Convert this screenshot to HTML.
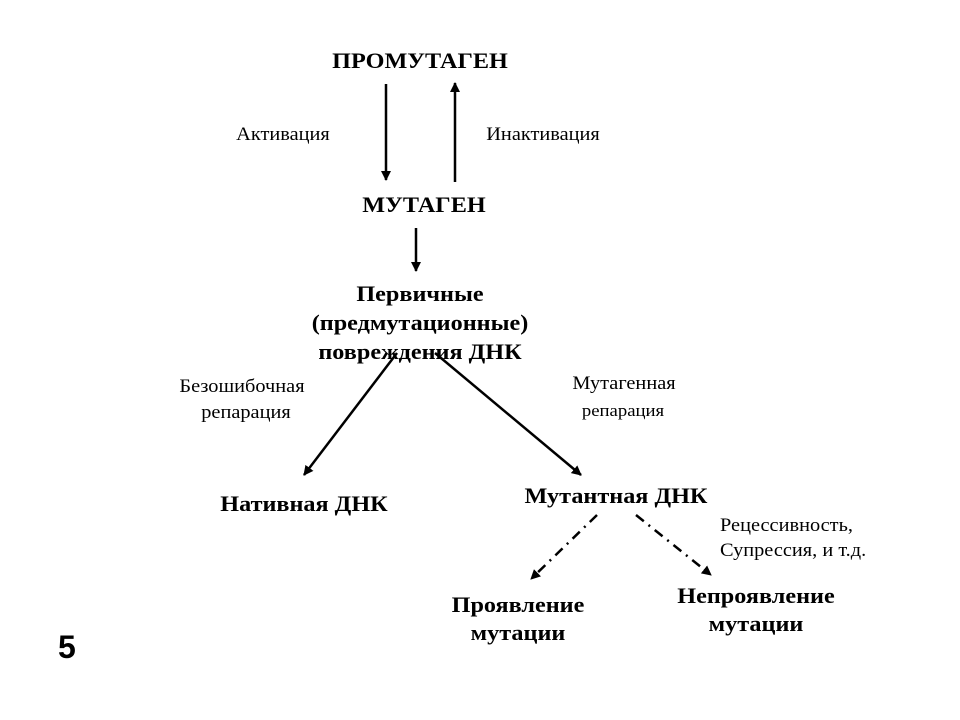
<!DOCTYPE html>
<html><head><meta charset="utf-8"><style>
body{margin:0;width:960px;height:720px;background:#fff;overflow:hidden;position:relative;font-family:"Liberation Serif",serif;color:#000}
.t{position:absolute;white-space:nowrap;text-align:center;width:400px;height:28px;line-height:28px;transform:scaleX(1.1)}
.b{font-weight:bold;font-size:22px}
.n{font-size:18.5px}
</style></head><body>
<svg width="960" height="720" style="position:absolute;left:0;top:0">
<defs><marker id="a" markerWidth="10" markerHeight="10" refX="9" refY="5" orient="auto" markerUnits="userSpaceOnUse"><path d="M0,0 L10,5 L0,10 z" fill="#000"/></marker></defs>
<g stroke="#000" stroke-width="2.5" fill="none">
<line x1="386" y1="84" x2="386" y2="180" marker-end="url(#a)"/>
<line x1="455" y1="182" x2="455" y2="83" marker-end="url(#a)"/>
<line x1="416" y1="228" x2="416" y2="271" marker-end="url(#a)"/>
<line x1="397" y1="353" x2="304" y2="475" marker-end="url(#a)"/>
<line x1="435" y1="353" x2="581" y2="475" marker-end="url(#a)"/>
<line x1="597" y1="515" x2="531" y2="579" stroke-dasharray="10,6,2,6" marker-end="url(#a)"/>
<line x1="636" y1="515" x2="711" y2="575" stroke-dasharray="10,6,2,6" marker-end="url(#a)"/>
</g></svg>
<div class="t b" style="left:220px;top:47px">ПРОМУТАГЕН</div>
<div class="t n" style="left:83px;top:121px">Активация</div>
<div class="t n" style="left:343px;top:121px">Инактивация</div>
<div class="t b" style="left:224px;top:191px">МУТАГЕН</div>
<div class="t b" style="left:220px;top:280px">Первичные</div>
<div class="t b" style="left:220px;top:309px">(предмутационные)</div>
<div class="t b" style="left:220px;top:338px">повреждения ДНК</div>
<div class="t n" style="left:42px;top:373px">Безошибочная</div>
<div class="t n" style="left:46px;top:399px">репарация</div>
<div class="t n" style="left:424px;top:370px">Мутагенная</div>
<div class="t n" style="left:423px;top:397px;font-size:17px">репарация</div>
<div class="t b" style="left:104px;top:490px">Нативная ДНК</div>
<div class="t b" style="left:416px;top:482px">Мутантная ДНК</div>
<div class="t n" style="left:720px;top:512px;width:auto;text-align:left;transform-origin:0 0">Рецессивность,</div>
<div class="t n" style="left:720px;top:537px;width:auto;text-align:left;transform-origin:0 0">Супрессия, и т.д.</div>
<div class="t b" style="left:318px;top:591px">Проявление</div>
<div class="t b" style="left:318px;top:619px">мутации</div>
<div class="t b" style="left:556px;top:582px">Непроявление</div>
<div class="t b" style="left:556px;top:610px">мутации</div>
<div style="position:absolute;left:58px;top:627px;font-family:'Liberation Sans',sans-serif;font-weight:bold;font-size:32px;line-height:40px">5</div>
</body></html>
